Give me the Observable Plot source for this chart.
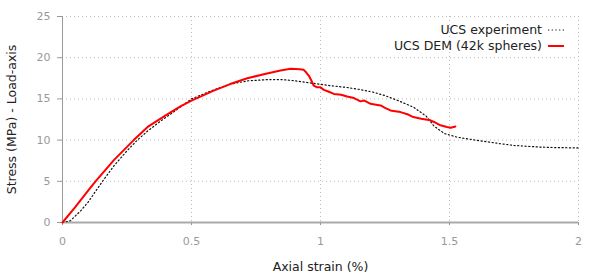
<!DOCTYPE html>
<html><head><meta charset="utf-8">
<script src="https://cdn.jsdelivr.net/npm/d3@7"></script>
<script src="https://cdn.jsdelivr.net/npm/@observablehq/plot@0.6"></script>
<style>
body{margin:0;background:#fff;font-family:"DejaVu Sans",Verdana,sans-serif;}
#wrap{position:relative;width:600px;height:277px;}
#legend{position:absolute;right:36px;top:22px;font-size:12.5px;color:#222;line-height:16px;text-align:right;}
#legend div{display:flex;justify-content:flex-end;align-items:center;gap:6px;}
</style></head>
<body><div id="wrap"><div id="legend"></div></div>
<script>
const expStrain=[0,0.03,0.07,0.1,0.155,0.2,0.25,0.29,0.33,0.38,0.43,0.5,0.586,0.651,0.72,0.8,0.85,0.9,0.97,1.04,1.1,1.15,1.2,1.25,1.3,1.36,1.41,1.44,1.48,1.53,1.6,1.7,1.75,1.85,1.9,2.0];
const expStress=[0,0.2,1.4,2.5,5.0,6.9,8.7,10.0,11.1,12.3,13.4,15.0,16.1,16.8,17.2,17.35,17.35,17.2,16.9,16.6,16.4,16.15,15.85,15.4,14.8,14.0,12.9,11.7,10.8,10.35,10.0,9.55,9.35,9.15,9.1,9.05];
const demStrain=[0,0.05,0.1,0.128,0.2,0.276,0.33,0.4,0.457,0.5,0.586,0.65,0.716,0.78,0.845,0.884,0.92,0.934,0.945,0.955,0.965,0.974,0.987,1.0,1.013,1.03,1.052,1.08,1.103,1.13,1.155,1.17,1.194,1.215,1.233,1.25,1.271,1.29,1.31,1.34,1.36,1.39,1.426,1.44,1.465,1.49,1.505,1.523];
const demStress=[0,1.9,3.9,5.0,7.6,10.0,11.6,13.0,14.1,14.8,16.0,16.8,17.5,18.0,18.45,18.65,18.6,18.55,18.2,17.8,17.2,16.6,16.4,16.4,16.1,15.9,15.6,15.5,15.3,15.1,14.7,14.8,14.4,14.3,14.2,13.9,13.6,13.5,13.4,13.1,12.8,12.6,12.4,12.2,11.8,11.6,11.5,11.65];
const xTicks=[0,0.5,1,1.5,2];
const yTicks=[0,5,10,15,20,25];
const seriesNames=["UCS experiment","UCS DEM (42k spheres)"];

const exp=expStrain.map((x,i)=>({x,y:expStress[i]}));
const dem=demStrain.map((x,i)=>({x,y:demStress[i]}));

const chart=Plot.plot({
  width:600,height:277,
  marginLeft:62,marginRight:22,marginTop:16,marginBottom:55,
  style:{fontFamily:"DejaVu Sans, Verdana, sans-serif",background:"#fff"},
  x:{domain:[0,2]},
  y:{domain:[0,25]},
  marks:[
    Plot.ruleX(xTicks.slice(1),{stroke:"#bbb",strokeDasharray:"1,3"}),
    Plot.ruleY(yTicks.slice(1),{stroke:"#bbb",strokeDasharray:"1,3"}),
    Plot.ruleX([0],{stroke:"#999",strokeWidth:1}),
    Plot.ruleY([0],{stroke:"#aaa",strokeWidth:2}),
    Plot.axisX({ticks:xTicks,tickFormat:d=>String(d),tickSize:3,tickPadding:12,fontSize:11,fill:"#999",stroke:"#999",
      label:"Axial strain (%)",labelAnchor:"center",labelArrow:"none",labelOffset:48}),
    Plot.axisY({ticks:yTicks,tickSize:5,tickPadding:7,fontSize:11,fill:"#999",stroke:"#999",
      label:"Stress (MPa) - Load-axis",labelAnchor:"center",labelArrow:"none",labelOffset:55}),
    Plot.line(exp,{x:"x",y:"y",stroke:"#111",strokeWidth:1.2,strokeDasharray:"1.2,2.5"}),
    Plot.line(dem,{x:"x",y:"y",stroke:"#f00",strokeWidth:2})
  ]
});
d3.select(chart).selectAll("[aria-label='x-axis label'] text, [aria-label='y-axis label'] text").attr("fill","#222").style("font-size","12.5px");
document.getElementById("wrap").prepend(chart);

const leg=document.getElementById("legend");
const samples=[
  '<svg width="16" height="4"><line x1="0" x2="16" y1="2" y2="2" stroke="#111" stroke-width="1.2" stroke-dasharray="1.2,2.5"/></svg>',
  '<svg width="16" height="4"><line x1="0" x2="16" y1="2" y2="2" stroke="#f00" stroke-width="2"/></svg>'
];
seriesNames.forEach((n,i)=>{
  const d=document.createElement("div");
  d.innerHTML='<span>'+n+'</span>'+samples[i];
  leg.appendChild(d);
});
</script></body></html>
